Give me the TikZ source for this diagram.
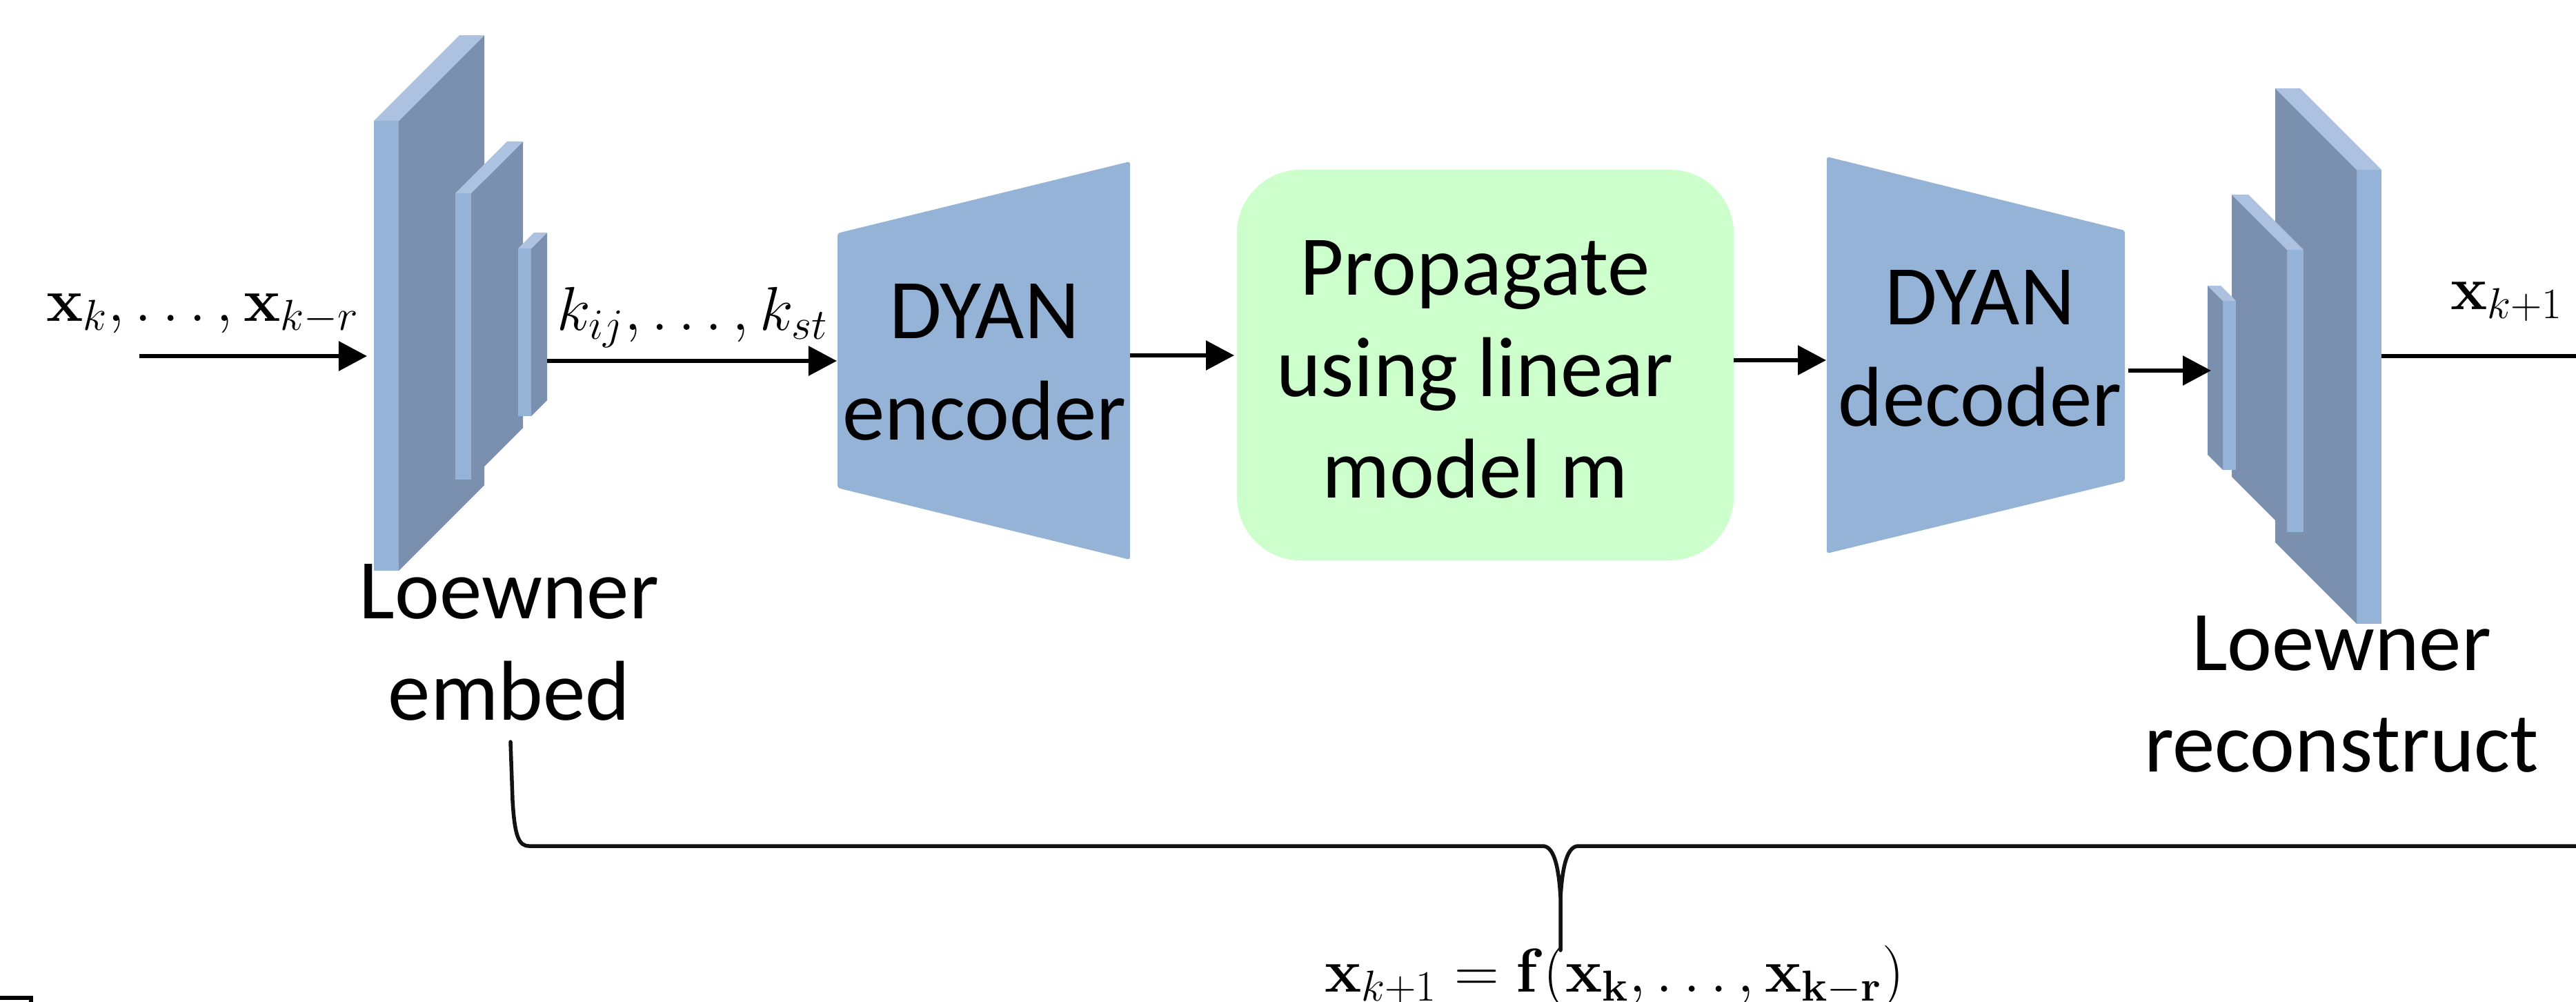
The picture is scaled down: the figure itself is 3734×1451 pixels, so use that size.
\RequirePackage{fix-cm}
\documentclass[tikz,border=0pt]{standalone}
\usepackage[no-math]{fontspec}
\setmainfont{Carlito}
\usetikzlibrary{arrows.meta}
\definecolor{frontc}{HTML}{95B3D7}
\definecolor{sidec}{HTML}{7B90AF}
\definecolor{topc}{HTML}{ACC2E0}
\definecolor{propgreen}{HTML}{CCFFCC}
\newcommand{\slabE}[5]{%
  \fill[frontc] (#1,#3) rectangle (#2,#4);
  \fill[sidec] (#2,#3) -- ++(#5,-#5) -- ++(0,#4-#3) -- (#2,#4) -- cycle;
  \fill[topc] (#1,#3) -- ++(#5,-#5) -- ++(#2-#1,0) -- (#2,#3) -- cycle;}
\newcommand{\slabW}[5]{%
  \fill[frontc] (#1,#3) rectangle (#2,#4);
  \fill[sidec] (#1,#3) -- ++(-#5,-#5) -- ++(0,#4-#3) -- (#1,#4) -- cycle;
  \fill[topc] (#1,#3) -- ++(-#5,-#5) -- ++(#2-#1,0) -- (#2,#3) -- cycle;}
\tikzset{
  arr/.style={line width=0.06cm, -{Triangle[length=0.41cm,width=0.42cm]}},
  plainline/.style={line width=0.06cm},
  bracel/.style={line width=0.055cm, color=black!93, line cap=round},
  lbl/.style={font=\fontsize{35}{41.8}\selectfont, align=center, inner sep=0pt, anchor=base},
  mathlbl/.style={font=\fontsize{25.5}{30}\selectfont, inner sep=0pt, anchor=base},
}
\begin{document}
\begin{tikzpicture}[x=0.01cm, y=-0.01cm]
\useasboundingbox (0,0) rectangle (3734,1451);
\fill[white] (0,0) rectangle (3734,1451);

% left Loewner slabs
\slabE{542}{578}{175}{827}{124}
\slabE{660}{683}{280}{695}{75}
\slabE{751}{770}{360}{603}{23}

% right Loewner slabs
\slabW{3416}{3452}{246}{904}{118}
\slabW{3315}{3339}{362}{771}{80}
\slabW{3222}{3241}{436}{681}{22}

% encoder / decoder
\fill[frontc, rounded corners=1pt] (1214,338) -- (1638,234) -- (1638,811) -- (1214,707) -- cycle;
\fill[frontc, rounded corners=1pt] (2648,227) -- (3080,334) -- (3080,697) -- (2648,802) -- cycle;

% propagate box
\node[fill=propgreen, rounded corners=0.93cm, minimum width=7.2cm, minimum height=5.66cm, inner sep=0pt] (prop) at (2153,529) {};

% texts (anchored at the baseline of the last line)
\node[lbl] (enctxt) at (1427,637) {DYAN\\encoder};
\node[lbl] (proptxt) at (2138,721) {Propagate\\using linear\\model m};
\node[lbl] (dectxt) at (2870,617) {DYAN\\decoder};
\node[lbl] (embedtxt) at (738,1043) {Loewner\\embed};
\node[lbl] (recontxt) at (3394,1118) {Loewner\\reconstruct};

\node[mathlbl] (inlbl) at (294,465) {$\mathbf{x}_k,\ldots,\mathbf{x}_{k-r}$};
\node[mathlbl] (klbl) at (1004,478) {$k_{ij},\ldots,k_{st}$};
\node[mathlbl] (outlbl) at (3634,448) {$\mathbf{x}_{k+1}$};
\node[mathlbl] (formula) at (2340,1437) {$\mathbf{x}_{k+1} = \mathbf{f}(\mathbf{x_k},\ldots,\mathbf{x_{k-r}})$};

% connector coordinates
\coordinate (inL) at (202,516);
\coordinate (slabLin) at (532,516);
\coordinate (slabLout) at (793,523);
\coordinate (encIn) at (1213,523);
\coordinate (encOut) at (1638,515);
\coordinate (propIn) at (1789,515);
\coordinate (propOut) at (2513,522);
\coordinate (decIn) at (2647,522);
\coordinate (decOut) at (3085,537);
\coordinate (slabRin) at (3205,537);
\coordinate (slabRout) at (3452,516);
\coordinate (outR) at (3734,516);

\draw[arr] (inL) -- (slabLin);
\draw[arr] (slabLout) -- (encIn);
\draw[arr] (encOut) -- (propIn);
\draw[arr] (propOut) -- (decIn);
\draw[arr] (decOut) -- (slabRin);
\draw[plainline] (slabRout) -- (outR);

% brace
\coordinate (brL) at (740,1075);
\coordinate (brM) at (2262,1377);
\coordinate (brR) at (3760,1226);
\draw[bracel] (brL) -- (743,1160) .. controls (746,1212) and (752,1226) .. (767,1226)
  -- (2236,1226) .. controls (2251,1226) and (2259,1250) .. (2262,1300) -- (brM);
\draw[bracel] (2262,1300) .. controls (2265,1250) and (2273,1226) .. (2288,1226) -- (brR);

% cropped mark at bottom left
\coordinate (mkA) at (0,1446);
\coordinate (mkB) at (45,1446);
\coordinate (mkC) at (45,1455);
\draw[line width=0.06cm] (mkA) -- (mkB) -- (mkC);
\end{tikzpicture}
\end{document}
